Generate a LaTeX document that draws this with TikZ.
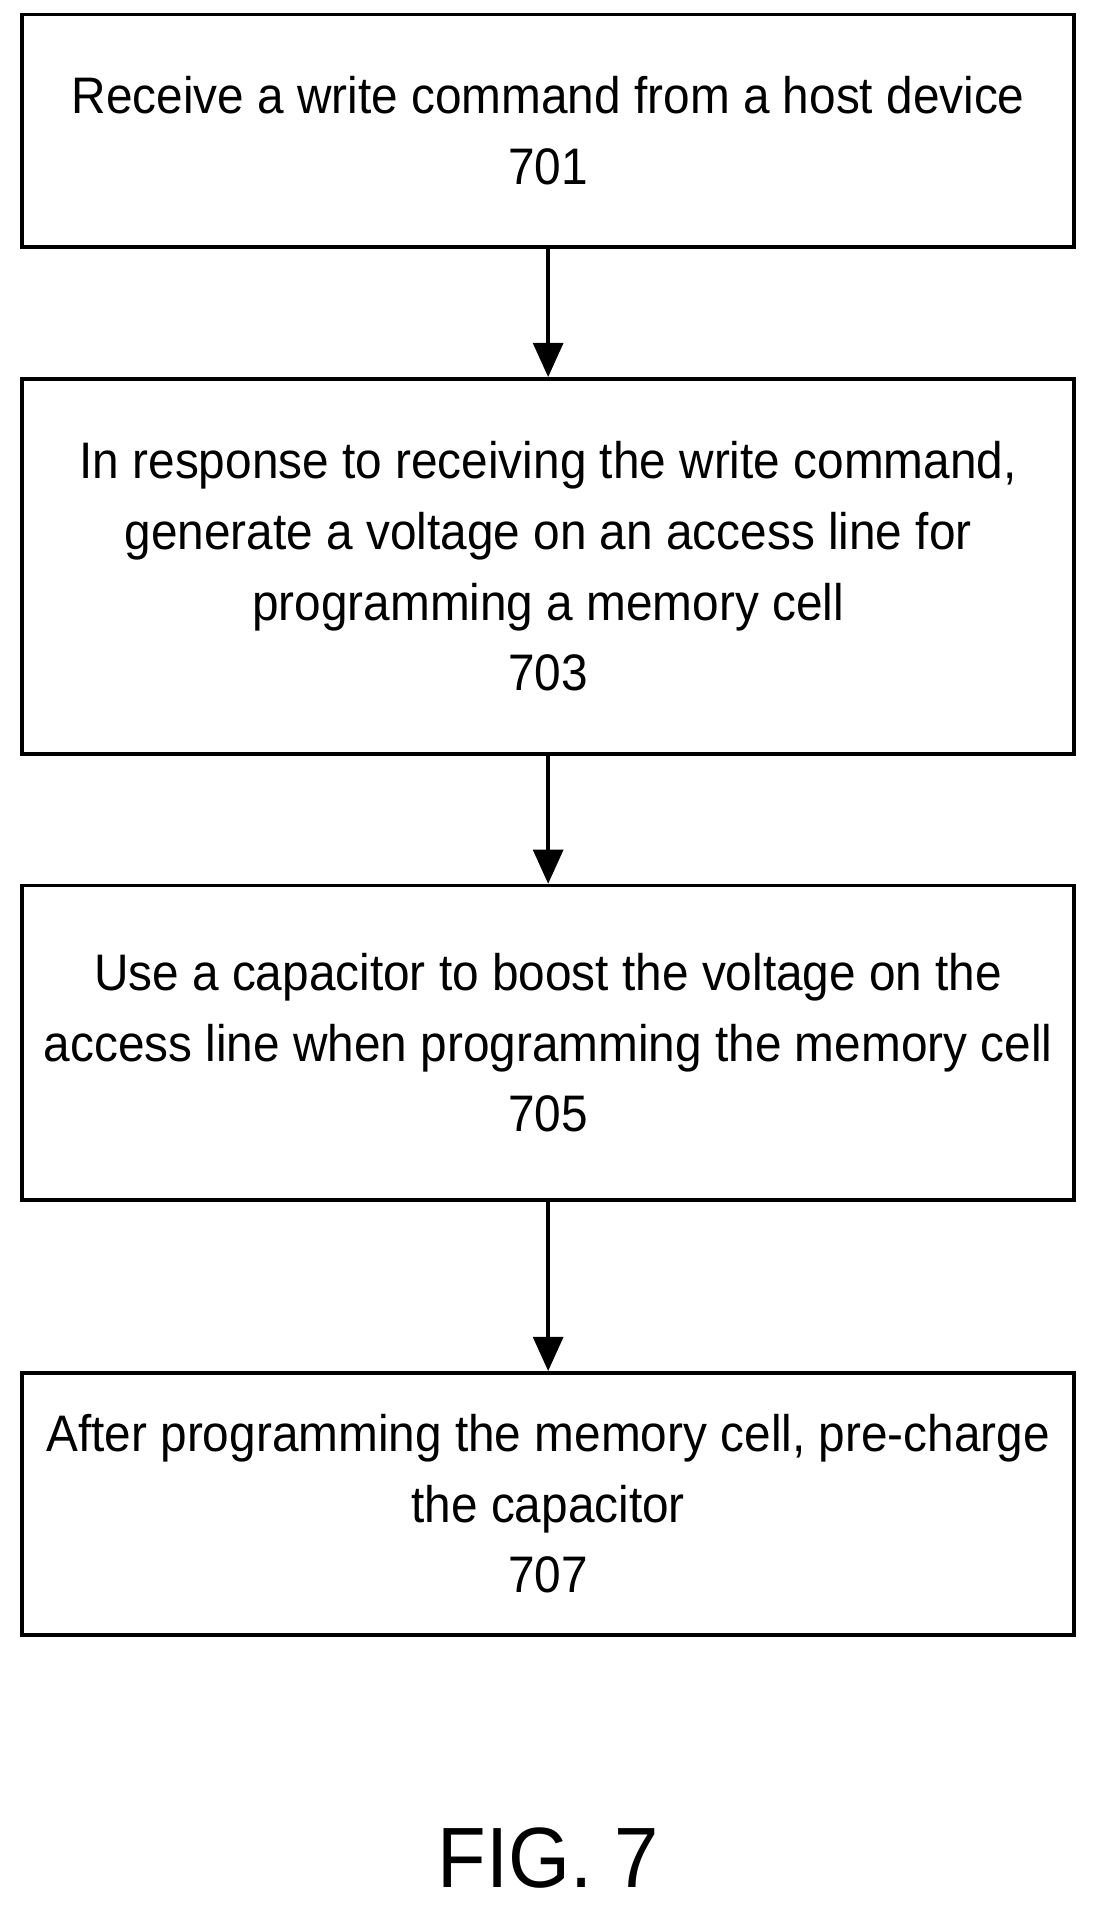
\documentclass[tikz,border=0pt]{standalone}
\usepackage{fontspec}
\setmainfont{Liberation Sans}[FakeStretch=0.93]
\usetikzlibrary{arrows.meta}
\begin{document}
\begin{tikzpicture}[x = 0.02cm, y = -0.02cm,
    box/.style = {draw,line width = 1.7pt,minimum width = 17.28cm,align = center,
      font = \fontsize{24}{33}\selectfont,inner sep = 0pt},
    flow/.style = {line width = 1.7pt,-{Triangle[length = 16pt,width = 14pt]}}]
    \useasboundingbox (0,0) rectangle (900,1568);

    \node[box,minimum height = 3.82cm] (s701) at (450,107.5) {Receive a write command from a host device\\701};
    \node[box,minimum height = 6.16cm] (s703) at (450,465) {In response to receiving the write command,\\generate a voltage on an access line for\\programming a memory cell\\703};
    \node[box,minimum height = 5.16cm] (s705) at (450,856) {Use a capacitor to boost the voltage on the\\access line when programming the memory cell\\705};
    \node[box,minimum height = 4.30cm] (s707) at (450,1234.5) {After programming the memory cell, pre-charge\\the capacitor\\707};

    \draw[flow] (s701) -- (s703);
    \draw[flow] (s703) -- (s705);
    \draw[flow] (s705) -- (s707);

    \node[font = \fontsize{40}{48}\selectfont] (fig) at (450,1525) {FIG. 7};
\end{tikzpicture}
\end{document}
